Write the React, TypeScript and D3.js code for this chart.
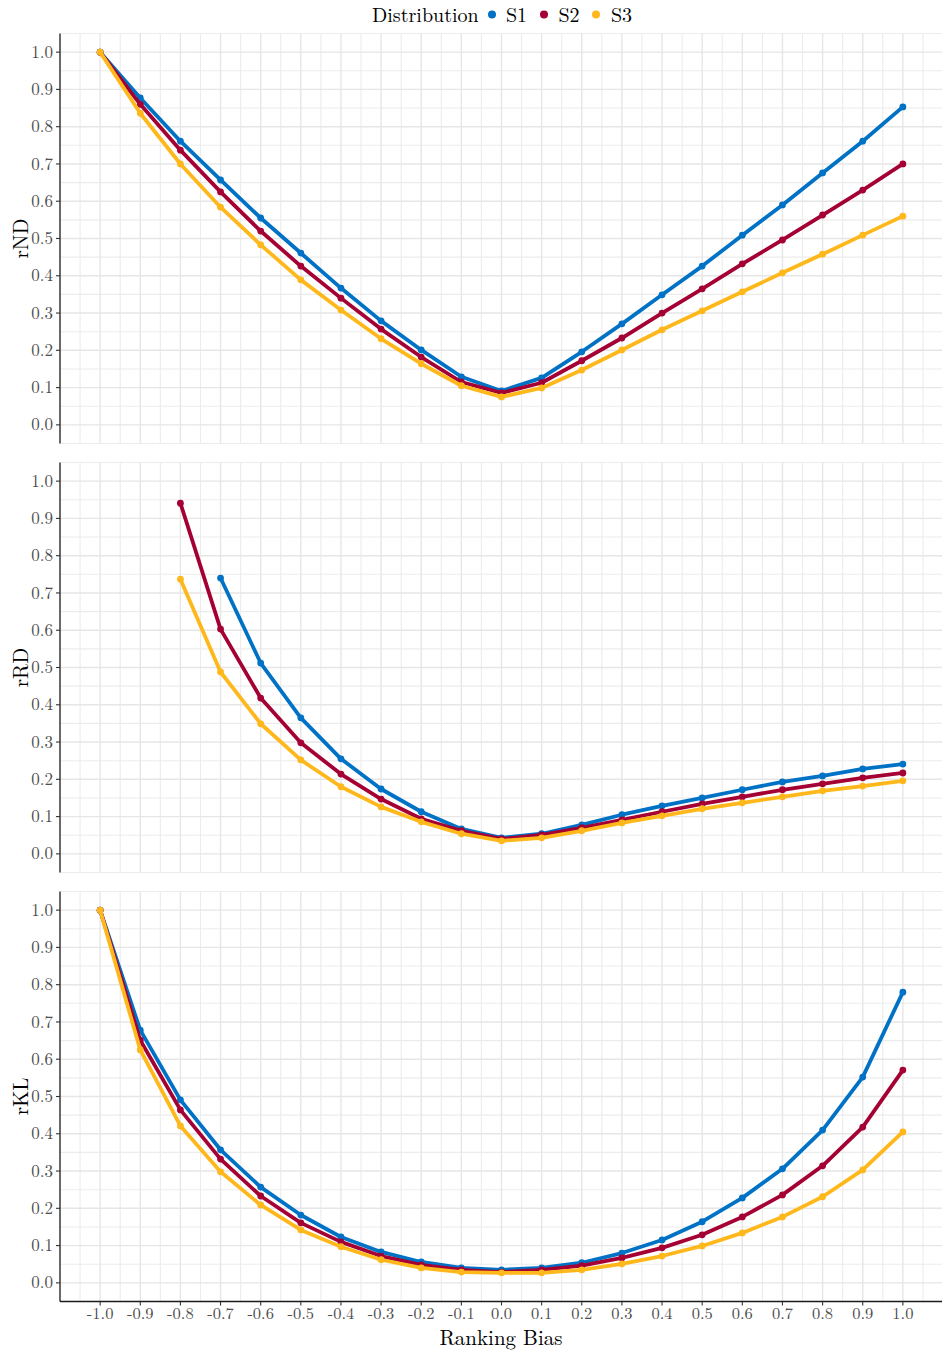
import React from "react";
import * as d3 from "d3";

const biasValues = [-1.0, -0.9, -0.8, -0.7, -0.6, -0.5, -0.4, -0.3, -0.2, -0.1, 0.0, 0.1, 0.2, 0.3, 0.4, 0.5, 0.6, 0.7, 0.8, 0.9, 1.0];
const seriesNames = ["S1", "S2", "S3"];
const seriesColors = ["#0072c6", "#a50034", "#ffb81c"];
const metricNames = ["rND", "rRD", "rKL"];
const yTickValues = [0, 0.1, 0.2, 0.3, 0.4, 0.5, 0.6, 0.7, 0.8, 0.9, 1.0];

const rND_S1 = [1.0, 0.877, 0.761, 0.657, 0.555, 0.461, 0.367, 0.279, 0.201, 0.129, 0.091, 0.126, 0.196, 0.271, 0.349, 0.426, 0.509, 0.590, 0.676, 0.761, 0.853];
const rND_S2 = [1.0, 0.860, 0.737, 0.625, 0.520, 0.426, 0.340, 0.257, 0.182, 0.115, 0.086, 0.113, 0.172, 0.233, 0.300, 0.365, 0.432, 0.496, 0.563, 0.630, 0.700];
const rND_S3 = [1.0, 0.836, 0.700, 0.584, 0.483, 0.389, 0.308, 0.231, 0.164, 0.105, 0.075, 0.099, 0.147, 0.201, 0.255, 0.306, 0.357, 0.408, 0.458, 0.509, 0.560];

const rRD_S1 = [null, null, null, 0.740, 0.512, 0.365, 0.255, 0.174, 0.113, 0.067, 0.043, 0.054, 0.078, 0.105, 0.129, 0.150, 0.172, 0.193, 0.209, 0.228, 0.241];
const rRD_S2 = [null, null, 0.941, 0.603, 0.418, 0.298, 0.214, 0.147, 0.094, 0.062, 0.040, 0.051, 0.070, 0.091, 0.113, 0.134, 0.153, 0.172, 0.188, 0.204, 0.217];
const rRD_S3 = [null, null, 0.737, 0.488, 0.349, 0.252, 0.180, 0.126, 0.086, 0.054, 0.035, 0.043, 0.062, 0.083, 0.102, 0.121, 0.137, 0.153, 0.169, 0.182, 0.196];

const rKL_S1 = [1.0, 0.678, 0.491, 0.357, 0.257, 0.182, 0.123, 0.083, 0.056, 0.040, 0.035, 0.040, 0.054, 0.080, 0.115, 0.164, 0.228, 0.306, 0.410, 0.552, 0.780];
const rKL_S2 = [1.0, 0.651, 0.464, 0.332, 0.233, 0.161, 0.110, 0.072, 0.048, 0.035, 0.029, 0.035, 0.046, 0.067, 0.094, 0.129, 0.177, 0.236, 0.314, 0.418, 0.571];
const rKL_S3 = [1.0, 0.625, 0.421, 0.298, 0.209, 0.142, 0.097, 0.062, 0.040, 0.029, 0.027, 0.027, 0.035, 0.051, 0.072, 0.099, 0.134, 0.177, 0.231, 0.303, 0.405];

const panelSeries = [
  [rND_S1, rND_S2, rND_S3],
  [rRD_S1, rRD_S2, rRD_S3],
  [rKL_S1, rKL_S2, rKL_S3],
];

const W = 942;
const H = 1350;
const FONT = "'Latin Modern Roman', 'CMU Serif', 'Liberation Serif', serif";
const panelLeft = 60;
const panelRight = 943;
const panelTops = [33.5, 462.5, 891.5];
const panelH = 410;

export default function App() {
  const x = d3.scaleLinear().domain([-1.1, 1.1]).range([panelLeft, panelRight]);
  const xMajor = d3.range(-10, 11).map((i) => i / 10);
  const xMinor = d3.range(-21, 22, 2).map((i) => i / 20);
  const yMinor = d3.range(-1, 22, 2).map((i) => i / 20);

  return (
    <svg width={W} height={H} style={{ position: "absolute", left: 0, top: 0, background: "#fff" }} fontFamily={FONT}>
      {/* legend */}
      <g>
        <text x={372} y={22} fontSize={20} fill="#000">Distribution</text>
        {seriesNames.map((s, i) => (
          <g key={s}>
            <circle cx={492 + i * 52} cy={14.5} r={4} fill={seriesColors[i]} />
            <text x={506 + i * 52.5} y={22} fontSize={20} fill="#000">{s}</text>
          </g>
        ))}
      </g>

      {panelSeries.map((series, p) => {
        const top = panelTops[p];
        const y = d3.scaleLinear().domain([-0.05, 1.05]).range([top + panelH, top]);
        const line = d3
          .line<number | null>()
          .defined((d) => d != null)
          .x((_, i) => x(biasValues[i]))
          .y((d) => y(d as number));
        return (
          <g key={p}>
            <defs>
              <clipPath id={`clip${p}`}>
                <rect x={panelLeft} y={top} width={panelRight - panelLeft} height={panelH} />
              </clipPath>
            </defs>
            {/* grid */}
            {xMinor.map((v) => (
              <line key={"xm" + v} x1={x(v)} x2={x(v)} y1={top} y2={top + panelH} stroke="#ececec" strokeWidth={1.1} />
            ))}
            {yMinor.map((v) => (
              <line key={"ym" + v} x1={panelLeft} x2={panelRight} y1={y(v)} y2={y(v)} stroke="#ececec" strokeWidth={1.1} />
            ))}
            {xMajor.map((v) => (
              <line key={"xM" + v} x1={x(v)} x2={x(v)} y1={top} y2={top + panelH} stroke="#e6e6e6" strokeWidth={1.4} />
            ))}
            {yTickValues.map((v) => (
              <line key={"yM" + v} x1={panelLeft} x2={panelRight} y1={y(v)} y2={y(v)} stroke="#e6e6e6" strokeWidth={1.4} />
            ))}
            {/* series */}
            <g clipPath={`url(#clip${p})`}>
              {series.map((vals, si) => (
                <g key={si}>
                  <path d={line(vals) || ""} fill="none" stroke={seriesColors[si]} strokeWidth={3.8} strokeLinejoin="round" />
                  {vals.map((v, i) =>
                    v == null ? null : (
                      <circle key={i} cx={x(biasValues[i])} cy={y(v)} r={3.4} fill={seriesColors[si]} />
                    )
                  )}
                </g>
              ))}
            </g>
            {/* y axis */}
            <line x1={panelLeft} x2={panelLeft} y1={top} y2={top + panelH} stroke="#1a1a1a" strokeWidth={1.3} />
            {yTickValues.map((v) => (
              <g key={"yt" + v}>
                <line x1={panelLeft - 4} x2={panelLeft} y1={y(v)} y2={y(v)} stroke="#333" strokeWidth={1.1} />
                <text x={panelLeft - 7} y={y(v)} dy="0.33em" textAnchor="end" fontSize={17} fill="#4d4d4d">
                  {d3.format(".1f")(v)}
                </text>
              </g>
            ))}
            <text
              transform={`translate(28,${top + panelH / 2}) rotate(-90)`}
              textAnchor="middle"
              fontSize={21}
              fill="#000"
            >
              {metricNames[p]}
            </text>
            {p === 2 && (
              <g>
                <line x1={panelLeft} x2={panelRight} y1={top + panelH} y2={top + panelH} stroke="#1a1a1a" strokeWidth={1.3} />
                {xMajor.map((v) => (
                  <g key={"xt" + v}>
                    <line x1={x(v)} x2={x(v)} y1={top + panelH} y2={top + panelH + 4} stroke="#333" strokeWidth={1.1} />
                    <text x={x(v)} y={1319} textAnchor="middle" fontSize={16.5} fill="#4d4d4d">
                      {d3.format(".1f")(v).replace("−", "-")}
                    </text>
                  </g>
                ))}
                <text x={501} y={1344.5} textAnchor="middle" fontSize={21} fill="#000">
                  Ranking Bias
                </text>
              </g>
            )}
          </g>
        );
      })}
    </svg>
  );
}
